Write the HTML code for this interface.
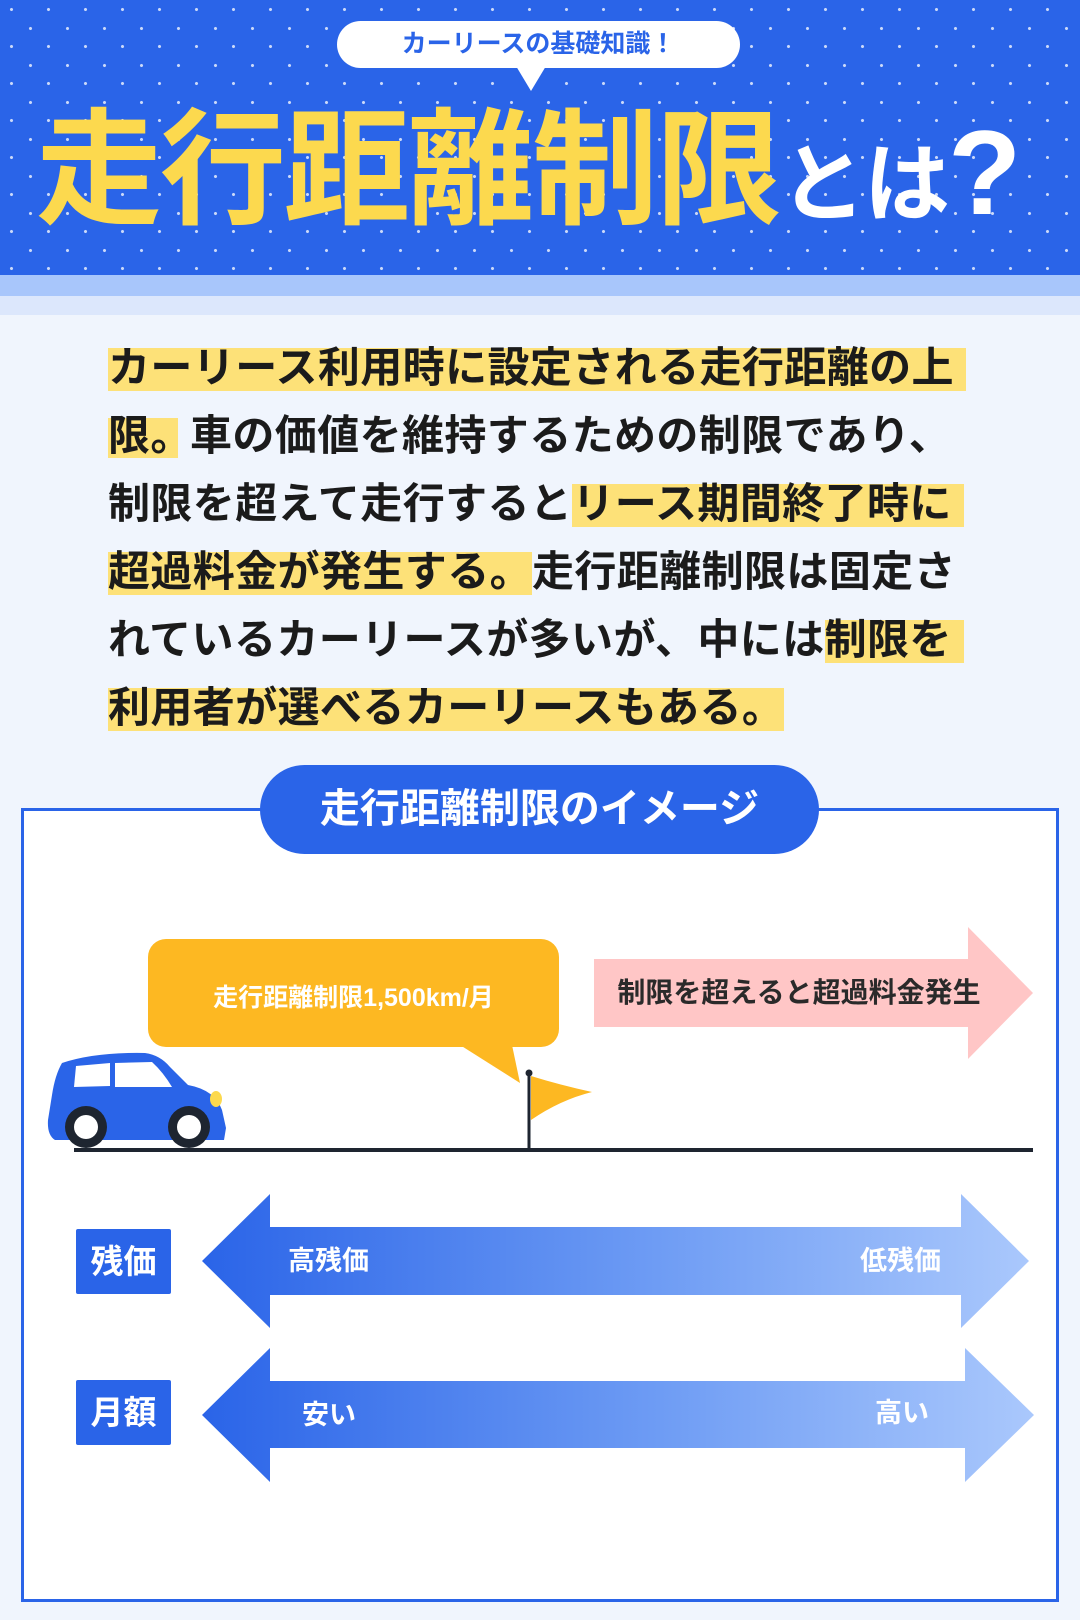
<!DOCTYPE html>
<html><head><meta charset="utf-8"><style>
*{margin:0;padding:0;box-sizing:border-box}
body{width:1080px;height:1620px;background:#f0f5fd;position:relative;overflow:hidden;font-family:"Liberation Sans","Noto Sans CJK JP",sans-serif;font-weight:700}
.hdr{position:absolute;left:0;top:0;width:1080px;height:275px;background-color:#2a64e8;
background-image:radial-gradient(circle,rgba(255,255,255,.75) 1.3px,transparent 1.8px),radial-gradient(circle,rgba(255,255,255,.75) 1.3px,transparent 1.8px);
background-size:37px 37px,37px 37px;background-position:12px 10px,30px 28px}
.b1{position:absolute;left:0;top:275px;width:1080px;height:21px;background:#a8c6fb}
.b2{position:absolute;left:0;top:296px;width:1080px;height:19px;background:#dce7fc}
.bub{position:absolute;left:337px;top:21px;width:403px;height:47px;background:#fff;border-radius:24px;color:#2a64e8;font-size:25px;text-align:center;line-height:47px}
.tail{position:absolute;left:516px;top:66px;width:0;height:0;border-left:15px solid transparent;border-right:15px solid transparent;border-top:25px solid #fff}
.t1{position:absolute;left:36px;top:96px;font-size:126px;color:#fcd94e;line-height:150px;letter-spacing:-2px;white-space:nowrap}
.t1 .w{color:#fff;font-size:86px}
.t1 .q{color:#fff;font-size:120px;font-family:"Liberation Sans",sans-serif}
.ln{position:absolute;left:108px;font-size:42px;line-height:44px;color:#1b1b1b;white-space:nowrap;letter-spacing:0.4px}
.hl{background:linear-gradient(transparent 4px,#fde178 4px)}
.box{position:absolute;left:21px;top:808px;width:1038px;height:794px;border:3px solid #2a64e8;background:#fff}
.pill{position:absolute;left:260px;top:765px;width:559px;height:89px;background:#2a64e8;border-radius:45px;color:#fff;font-size:40px;text-align:center;line-height:89px}
.lab{position:absolute;left:76px;width:95px;height:65px;background:#2a64e8;color:#fff;font-size:33px;text-align:center;line-height:65px;border-radius:2px}
.at{position:absolute;color:#fff;font-size:27px;line-height:30px}
</style></head><body>
<div class="hdr"></div><div class="b1"></div><div class="b2"></div>
<div class="bub">カーリースの基礎知識！</div><div class="tail"></div>
<div class="t1">走行距離制限<span class="w">とは</span><span class="q">?</span></div>

<div class="ln" style="top:346px"><span class="hl">カーリース利用時に設定される走行距離の上&nbsp;</span></div>
<div class="ln" style="top:414px"><span class="hl" style="display:inline-block;width:70px;overflow:hidden;vertical-align:top;margin-right:12px">限。</span>車の価値を維持するための制限であり、</div>
<div class="ln" style="top:482px">制限を超えて走行すると<span class="hl">リース期間終了時に&nbsp;</span></div>
<div class="ln" style="top:550px"><span class="hl">超過料金が発生する。</span>走行距離制限は固定さ</div>
<div class="ln" style="top:618px">れているカーリースが多いが、中には<span class="hl">制限を&nbsp;</span></div>
<div class="ln" style="top:686px"><span class="hl">利用者が選べるカーリースもある。</span></div>

<div class="box"></div>
<div class="pill">走行距離制限のイメージ</div>

<svg style="position:absolute;left:0;top:0" width="1080" height="1620">
<defs><linearGradient id="g" x1="0" x2="1"><stop offset="0" stop-color="#2a64e8"/><stop offset="0.55" stop-color="#6e9cf4"/><stop offset="1" stop-color="#aac8fc"/></linearGradient></defs>
<rect x="148" y="939" width="411" height="108" rx="18" fill="#fdb822"/>
<polygon points="460,1045 520,1083 512,1045" fill="#fdb822"/>
<polygon points="594,959 968,959 968,927 1033,993 968,1059 968,1027 594,1027" fill="#ffc6c6"/>
<line x1="74" y1="1150" x2="1033" y2="1150" stroke="#1e2530" stroke-width="4"/>
<line x1="529" y1="1074" x2="529" y2="1150" stroke="#1e2530" stroke-width="3"/>
<circle cx="529" cy="1073" r="3.5" fill="#1e2530"/>
<path d="M531,1076 Q560,1085 592,1092 Q560,1100 531,1120 Z" fill="#fdb822"/>
<path d="M62,1063 Q95,1052 145,1053 Q160,1055 170,1067 L188,1085 Q215,1090 222,1110 L226,1128 L224,1140 L55,1140 Q47,1135 48,1120 L52,1095 Q55,1075 62,1063 Z" fill="#2a64e8"/>
<path d="M76,1066 L110,1063 L110,1086 L74,1087 Z" fill="#fff"/>
<path d="M115,1063 L152,1062 Q163,1072 172,1087 L115,1087 Z" fill="#fff"/>
<ellipse cx="216" cy="1099" rx="6" ry="8" fill="#fcd94e"/>
<circle cx="86" cy="1127" r="21" fill="#1e2530"/><circle cx="86" cy="1127" r="12" fill="#fff"/>
<circle cx="189" cy="1127" r="21" fill="#1e2530"/><circle cx="189" cy="1127" r="12" fill="#fff"/>
<polygon points="202,1261 270,1194 270,1227 961,1227 961,1194 1029,1261 961,1328 961,1295 270,1295 270,1328" fill="url(#g)"/>
<polygon points="202,1415 270,1348 270,1381 965,1381 965,1348 1034,1415 965,1482 965,1448 270,1448 270,1482" fill="url(#g)"/>
</svg>
<div class="at" style="left:148px;width:411px;top:978px;text-align:center;font-size:25px;line-height:40px">走行距離制限1,500km/月</div>
<div class="at" style="left:594px;width:410px;top:975px;text-align:center;color:#2a2a2a;font-size:28px;line-height:36px">制限を超えると超過料金発生</div>
<div class="lab" style="top:1229px">残価</div>
<div class="lab" style="top:1380px">月額</div>
<div class="at" style="left:288px;top:1246px">高残価</div>
<div class="at" style="left:860px;top:1246px">低残価</div>
<div class="at" style="left:302px;top:1400px">安い</div>
<div class="at" style="left:875px;top:1398px">高い</div>
</body></html>
